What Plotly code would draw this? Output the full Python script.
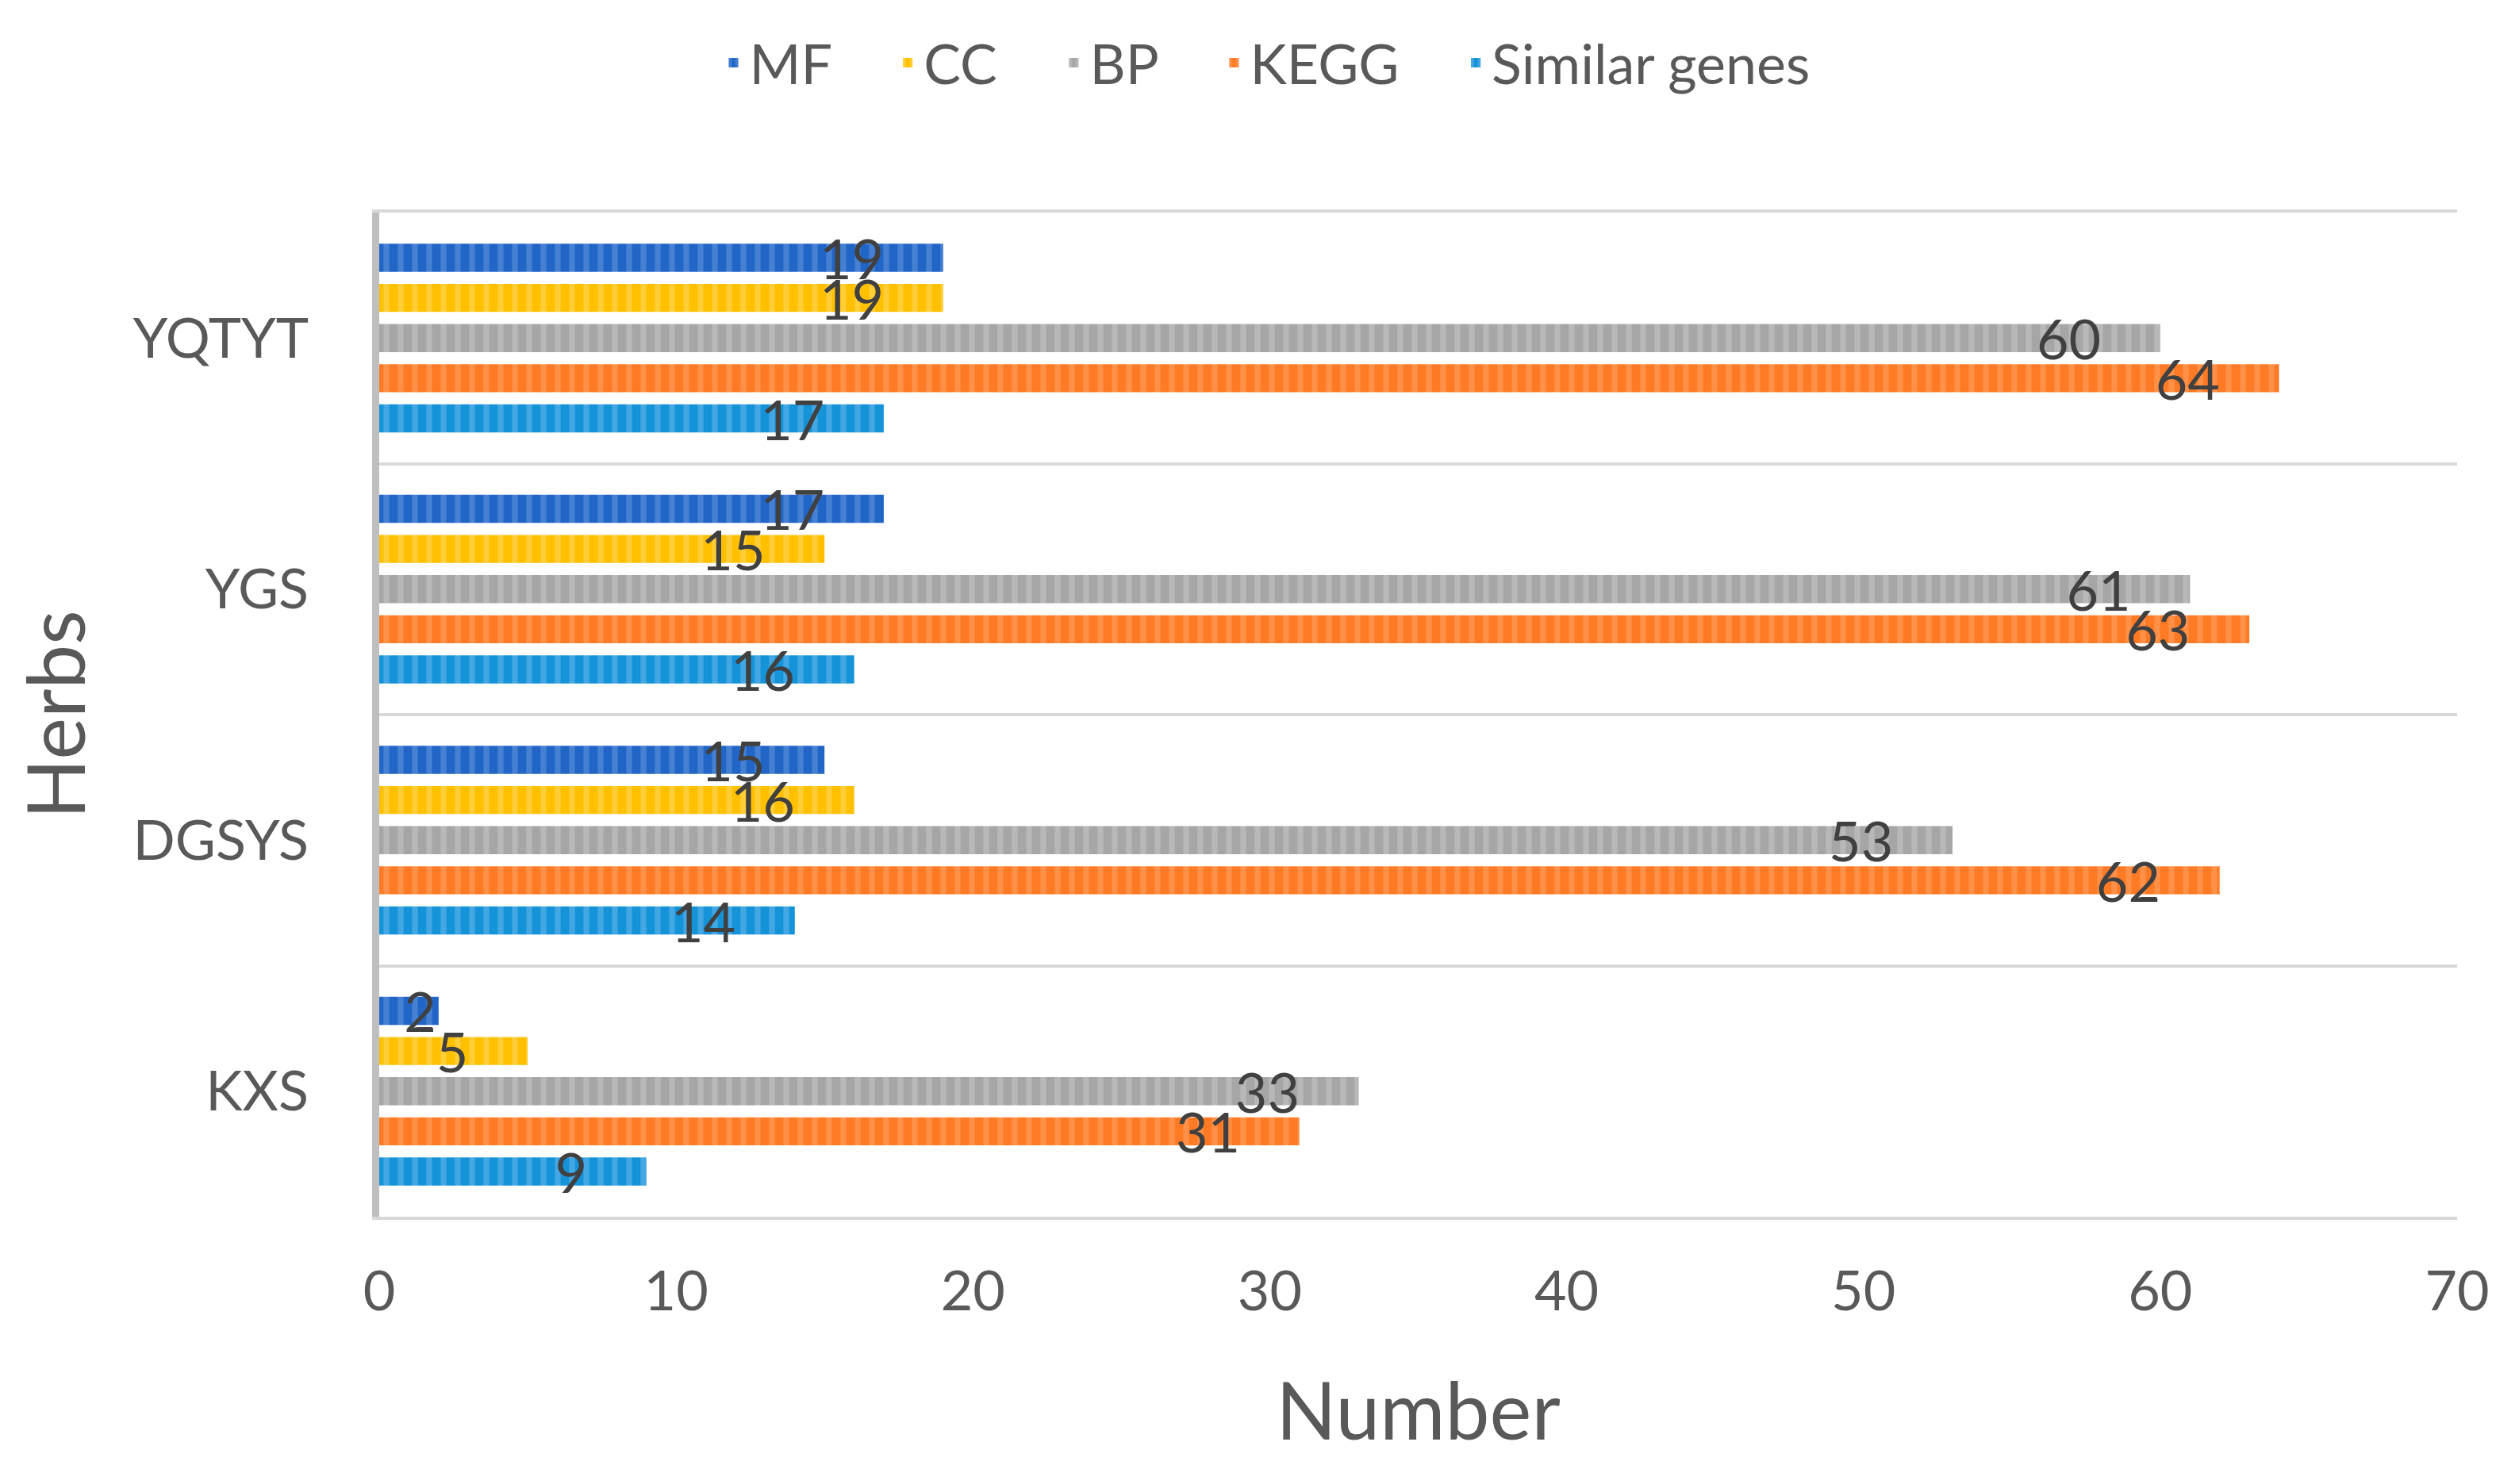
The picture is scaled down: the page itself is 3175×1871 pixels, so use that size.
import plotly.graph_objects as go

herbs = ["YQTYT", "YGS", "DGSYS", "KXS"]
series_names = ["MF", "CC", "BP", "KEGG", "Similar genes"]
mf = [19, 17, 15, 2]
cc = [19, 15, 16, 5]
bp = [60, 61, 53, 33]
kegg = [64, 63, 62, 31]
similar = [17, 16, 14, 9]
x_ticks = [0, 10, 20, 30, 40, 50, 60, 70]

series_values = [mf, cc, bp, kegg, similar]
base_colors = ["#2165C6", "#FFC000", "#A6A6A6", "#FF7A25", "#1593D9"]
light_colors = ["#6A9BE0", "#FFDA6A", "#CACACA", "#FFA66A", "#70BCEB"]

FONT = "Lato"
fig = go.Figure()
for i, (name, vals, c, lc) in enumerate(zip(series_names, series_values, base_colors, light_colors)):
    legend_label = name if i == len(series_names) - 1 else name + "\u00a0" * 4
    fig.add_trace(go.Bar(
        name=legend_label,
        y=herbs,
        x=vals,
        orientation="h",
        marker=dict(
            color=c,
            line=dict(width=0),
            pattern=dict(shape="|", size=18, solidity=0.4, fgcolor=lc,
                         bgcolor=c, fillmode="overlay"),
        ),
        text=[f"{v}" + ("\u00a0" * 4 if v >= 5 else "") for v in vals],
        textposition="inside",
        insidetextanchor="end",
        constraintext="none",
        textangle=0,
        textfont=dict(family=FONT, size=70, color="#404040"),
    ))

fig.update_layout(
    width=3175,
    height=1871,
    paper_bgcolor="white",
    plot_bgcolor="white",
    barmode="group",
    bargap=0.2,
    bargroupgap=0.3,
    margin=dict(l=470, r=86, t=260, b=345),
    font=dict(family=FONT, size=70, color="#595959"),
    legend=dict(
        orientation="h",
        xref="container", yref="container",
        x=0.5, xanchor="center",
        y=0.962, yanchor="middle",
        font=dict(family=FONT, size=70, color="#595959"),
        traceorder="normal",
        itemwidth=30,
    ),
    xaxis=dict(
        range=[0, 70],
        tickvals=x_ticks,
        showgrid=False,
        zeroline=False,
        showline=True,
        mirror=True,
        linecolor="#D9D9D9",
        linewidth=4,
        ticks="",
        ticklabelstandoff=30,
        tickfont=dict(family=FONT, size=70, color="#595959"),
        title=dict(text="Number", font=dict(family=FONT, size=100, color="#595959"),
                   standoff=80),
    ),
    yaxis=dict(
        categoryorder="array",
        categoryarray=herbs,
        autorange="reversed",
        tickson="boundaries",
        showgrid=True,
        gridcolor="#D9D9D9",
        gridwidth=4,
        showline=True,
        linecolor="#BFBFBF",
        linewidth=9,
        ticks="",
        ticklabelstandoff=66,
        zeroline=False,
        tickfont=dict(family=FONT, size=70, color="#595959"),
        title=dict(text="Herbs", font=dict(family=FONT, size=100, color="#595959"),
                   standoff=36),
    ),
)

fig.write_html("out.html")
